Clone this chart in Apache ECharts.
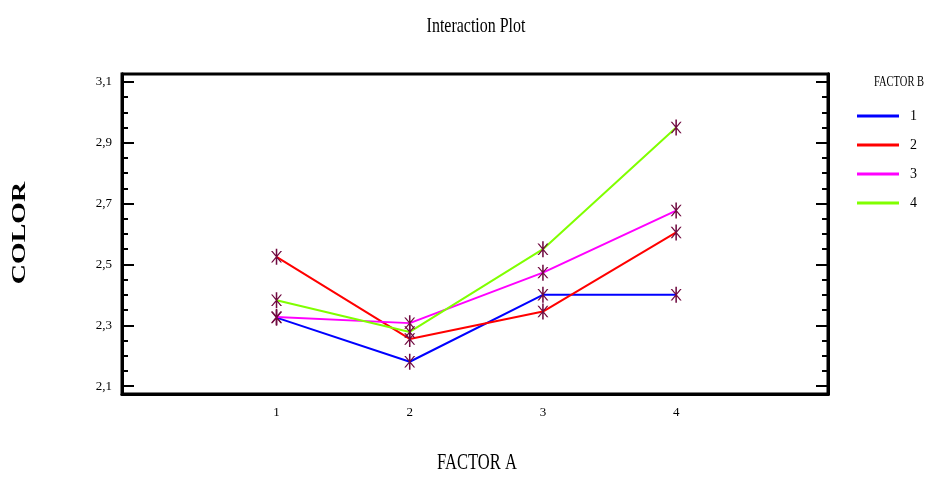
<!DOCTYPE html>
<html>
<head>
<meta charset="utf-8">
<script src="https://cdn.jsdelivr.net/npm/echarts@6/dist/echarts.min.js"></script>
<style>
  html, body { margin: 0; padding: 0; background: #fff; }
  #main { width: 926px; height: 478px; }
</style>
</head>
<body>
<div id="main"></div>
<script>
// factor A levels (x) and mean COLOR for each level of factor B
var factorA = [1, 2, 3, 4];
var b1 = [2.325, 2.18, 2.40, 2.40];
var b2 = [2.525, 2.255, 2.345, 2.605];
var b3 = [2.327, 2.307, 2.473, 2.677];
var b4 = [2.382, 2.278, 2.55, 2.95];
var seriesNames = ['1', '2', '3', '4'];
var seriesColors = ['#0000ff', '#ff0000', '#ff00ff', '#80ff00'];
var majorTicks = [2.1, 2.3, 2.5, 2.7, 2.9, 3.1];
var minorTicks = [2.1, 2.15, 2.2, 2.25, 2.3, 2.35, 2.4, 2.45, 2.5, 2.55, 2.6, 2.65,
                  2.7, 2.75, 2.8, 2.85, 2.9, 2.95, 3.0, 3.05, 3.1];

var font = '"Liberation Serif", "DejaVu Serif", serif';
var star = 'path://M4.3,0 L5.7,0 L5.7,14 L4.3,14 Z M0,2 L1.4,2 L10,12 L8.6,12 Z M8.6,2 L10,2 L1.4,12 L0,12 Z';

var myChart = echarts.init(document.getElementById('main'));

var allData = [b1, b2, b3, b4];
var series = [];
allData.forEach(function (vals, i) {
    series.push({
        name: seriesNames[i],
        type: 'line',
        symbol: 'none',
        data: factorA.map(function (a, j) { return [a, vals[j]]; }),
        lineStyle: { color: seriesColors[i], width: 2 },
        itemStyle: { color: seriesColors[i] },
        z: 2
    });
});
allData.forEach(function (vals, i) {
    series.push({
        name: 'pts' + i,
        type: 'scatter',
        symbol: star,
        symbolSize: [11, 16],
        data: factorA.map(function (a, j) { return [a, vals[j]]; }),
        itemStyle: { color: '#700a40', opacity: 1 },
        z: 3
    });
});

function yAx(pos, ticks, len, labels) {
    return {
        type: 'value',
        position: pos,
        min: 2.074,
        max: 3.126,
        splitLine: { show: false },
        axisLine: { show: true, onZero: false, lineStyle: { color: '#000', width: 3 } },
        axisTick: { show: true, inside: true, length: len, customValues: ticks,
                    lineStyle: { color: '#000', width: 2 } },
        axisLabel: labels ? {
            show: true, customValues: majorTicks, margin: 10,
            fontFamily: font, fontSize: 13, color: '#000',
            formatter: function (v) { return v.toFixed(1).replace('.', ','); }
        } : { show: false }
    };
}

myChart.setOption({
    backgroundColor: '#fff',
    animation: false,
    legend: {
        data: seriesNames,
        orient: 'vertical',
        left: 852,
        top: 104,
        itemWidth: 42,
        itemHeight: 3,
        itemGap: 15,
        icon: 'rect',
        textStyle: { fontFamily: font, fontSize: 14, color: '#000', padding: [0, 0, 0, 6] }
    },
    graphic: [
        { type: 'text', x: 476, y: 26, scaleX: 0.76,
          style: { text: 'Interaction Plot', font: '21px ' + font, fill: '#000',
                   align: 'center', verticalAlign: 'middle' } },
        { type: 'text', x: 899, y: 82, scaleX: 0.75,
          style: { text: 'FACTOR B', font: '14px ' + font, fill: '#000',
                   align: 'center', verticalAlign: 'middle' } },
        { type: 'text', x: 20, y: 233, rotation: Math.PI / 2, scaleX: 1.55,
          style: { text: 'COLOR', font: 'bold 18px ' + font, fill: '#000',
                   align: 'center', verticalAlign: 'middle' } },
        { type: 'text', x: 477, y: 463, scaleX: 0.72,
          style: { text: 'FACTOR A', font: '23px ' + font, fill: '#000',
                   align: 'center', verticalAlign: 'middle' } }
    ],
    grid: {
        left: 122, right: 98, top: 74, bottom: 84,
        show: true, borderColor: '#000', borderWidth: 3
    },
    xAxis: {
        type: 'value',
        min: -0.16,
        max: 5.14,
        splitLine: { show: false },
        axisLine: { show: true, onZero: false, lineStyle: { color: '#000', width: 3 } },
        axisTick: { show: false },
        axisLabel: {
            customValues: factorA, margin: 12,
            fontFamily: font, fontSize: 13, color: '#000'
        }
    },
    yAxis: [
        yAx('left', majorTicks, 12, true),
        yAx('left', minorTicks, 6, false),
        yAx('right', majorTicks, 12, false),
        yAx('right', minorTicks, 6, false)
    ],
    series: series
});
</script>
</body>
</html>
